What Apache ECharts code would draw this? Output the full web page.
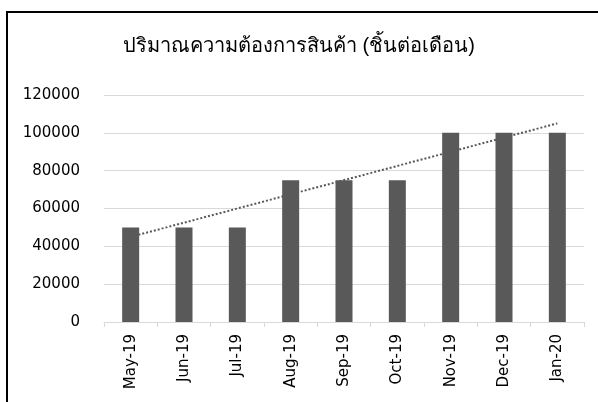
<!DOCTYPE html>
<html>
<head>
<meta charset="utf-8">
<script src="https://cdn.jsdelivr.net/npm/echarts@6/dist/echarts.min.js"></script>
<style>
  html, body { margin: 0; padding: 0; background: #fff; }
  #frame { position: absolute; left: 6px; top: 11px; width: 600px; height: 400px;
           border-left: 2px solid #000; border-top: 2px solid #000; }
  #main { position: absolute; left: 0; top: 0; width: 598px; height: 402px; }
</style>
</head>
<body>
<div id="frame"></div>
<div id="main"></div>
<script>
// ข้อมูล
const months = ['May-19', 'Jun-19', 'Jul-19', 'Aug-19', 'Sep-19', 'Oct-19', 'Nov-19', 'Dec-19', 'Jan-20']
const demand = [50000, 50000, 50000, 75000, 75000, 75000, 100000, 100000, 100000]
// trendline endpoints
const trendStart = 45000
const trendEnd = 105000

const chart = echarts.init(document.getElementById('main'))

const option = {
  animation: false,
  textStyle: { fontFamily: 'DejaVu Sans' },
  title: {
    text: 'ปริมาณความต้องการสินค้า (ชิ้นต่อเดือน)',
    left: 'center',
    top: 31,
    textStyle: { fontSize: 20, fontWeight: 'normal', color: '#000', fontFamily: 'sans-serif' }
  },
  grid: { left: 104, right: 14, top: 95, bottom: 80 },
  xAxis: {
    type: 'category',
    data: months,
    axisLine: { lineStyle: { color: '#d9d9d9' } },
    axisTick: { show: true, length: 5, lineStyle: { color: '#d9d9d9' } },
    axisLabel: { rotate: 90, fontSize: 15, color: '#000', margin: 12 }
  },
  yAxis: {
    type: 'value',
    min: 0,
    max: 120000,
    interval: 20000,
    axisLine: { show: false },
    axisTick: { show: false },
    axisLabel: { fontSize: 15, color: '#000', margin: 24, formatter: v => String(v) },
    splitLine: { lineStyle: { color: '#d9d9d9', width: 1 } }
  },
  series: [
    {
      name: 'trend',
      type: 'line',
      z: 1,
      symbol: 'none',
      lineStyle: { type: 'dotted', color: '#595959', width: 2 },
      data: [[months[0], trendStart], [months[months.length - 1], trendEnd]]
    },
    {
      name: 'demand',
      type: 'bar',
      z: 2,
      barWidth: 17,
      itemStyle: { color: '#595959' },
      data: demand
    }
  ]
}

chart.setOption(option)
</script>
</body>
</html>
